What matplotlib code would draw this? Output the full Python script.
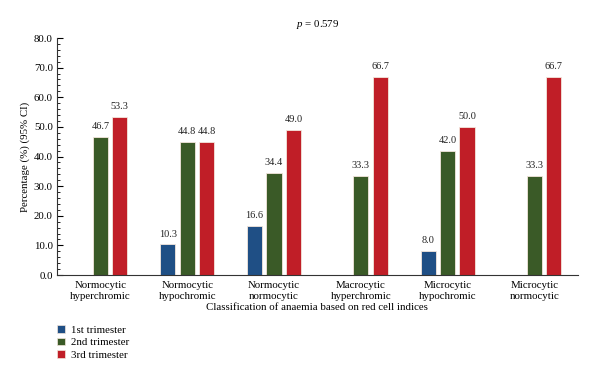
import matplotlib
matplotlib.use("Agg")
import matplotlib.pyplot as plt
import numpy as np
from matplotlib.patches import Patch
from matplotlib.ticker import MultipleLocator

plt.rcParams['font.family'] = ['Liberation Serif', 'DejaVu Serif']
plt.rcParams['mathtext.fontset'] = 'custom'
plt.rcParams['mathtext.it'] = 'Liberation Serif:italic'
plt.rcParams['mathtext.rm'] = 'Liberation Serif'

categories = ["Normocytic\nhyperchromic", "Normocytic\nhypochromic", "Normocytic\nnormocytic",
              "Macrocytic\nhyperchromic", "Microcytic\nhypochromic", "Microcytic\nnormocytic"]
series_names = ["1st trimester", "2nd trimester", "3rd trimester"]
first = [None, 10.3, 16.6, None, 8.0, None]
second = [46.7, 44.8, 34.4, 33.3, 42.0, 33.3]
third = [53.3, 44.8, 49.0, 66.7, 50.0, 66.7]
colors = ["#1f4f85", "#3a5a27", "#c01e27"]

fig = plt.figure(figsize=(6, 3.79), dpi=100)
ax = fig.add_axes([0.095, 0.2744, 0.868, 0.6253])

x = np.arange(len(categories))
w = 0.175
off = 0.224
fs = 7.8
for i, (vals, c) in enumerate(zip([first, second, third], colors)):
    for xi, v in zip(x, vals):
        if v is None:
            continue
        ax.bar(xi + (i - 1) * off, v, width=w, color=c, edgecolor="#f3e6dc", linewidth=0.6)
        ax.text(xi + (i - 1) * off, v + 2.0, f"{v:.1f}", ha="center", va="bottom", fontsize=7.4, color="#222222")

ax.set_xlim(-0.5, 5.5)
ax.set_ylim(0, 80)
ax.yaxis.set_minor_locator(MultipleLocator(2))
ax.set_yticks(np.arange(0, 81, 10))
ax.set_yticklabels([f"{v:.1f}" for v in np.arange(0, 81, 10)], fontsize=fs)
ax.set_xticks(x)
ax.set_xticklabels(categories, fontsize=fs, linespacing=1.3)
ax.tick_params(axis='x', length=0, pad=4)
ax.tick_params(axis='y', which='major', length=4, width=0.8, direction='in', pad=3)
ax.tick_params(axis='y', which='minor', length=2, width=0.6, direction='in')
for s in ["top", "right"]:
    ax.spines[s].set_visible(False)
for s in ["left", "bottom"]:
    ax.spines[s].set_linewidth(0.8)
    ax.spines[s].set_color("#333333")

ax.set_ylabel("Percentage (%) (95% CI)", fontsize=fs, labelpad=3)
ax.set_xlabel("Classification of anaemia based on red cell indices", fontsize=fs, labelpad=2)
ax.text(0.5, 1.055, r"$p$ = 0.579", transform=ax.transAxes, ha="center", va="center", fontsize=fs)

handles = [Patch(facecolor=c, edgecolor="#f3e6dc", linewidth=0.5) for c in colors]
fig.legend(handles, series_names, loc="upper left", bbox_to_anchor=(0.088, 0.153), frameon=False,
           fontsize=fs, handlelength=0.7, handleheight=0.7, handletextpad=0.55, labelspacing=0.25,
           borderaxespad=0)

fig.savefig("out.png", dpi=100)
